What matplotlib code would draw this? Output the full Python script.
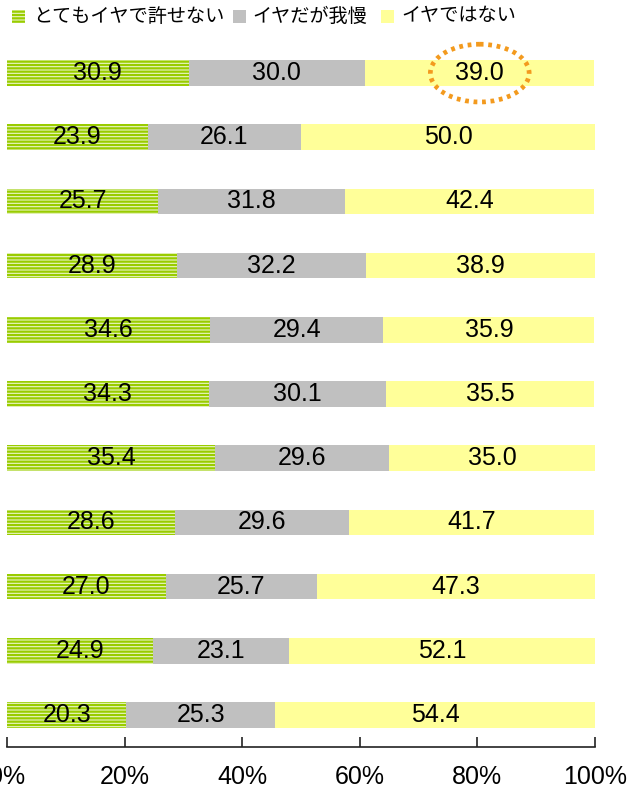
import matplotlib.pyplot as plt
from matplotlib.patches import Ellipse, Rectangle

# Data (percent)
legend_labels = ["とてもイヤで許せない", "イヤだが我慢", "イヤではない"]
very_bad = [30.9, 23.9, 25.7, 28.9, 34.6, 34.3, 35.4, 28.6, 27.0, 24.9, 20.3]
tolerate = [30.0, 26.1, 31.8, 32.2, 29.4, 30.1, 29.6, 29.6, 25.7, 23.1, 25.3]
not_bad = [39.0, 50.0, 42.4, 38.9, 35.9, 35.5, 35.0, 41.7, 47.3, 52.1, 54.4]
xticks = [0, 20, 40, 60, 80, 100]
xtick_labels = ["0%", "20%", "40%", "60%", "80%", "100%"]

green_face = "#EAF5C6"
green_line = "#99CC00"
gray = "#C0C0C0"
yellow = "#FFFF99"

plt.rcParams["font.family"] = ["Liberation Sans", "Noto Sans CJK JP", "DejaVu Sans"]
plt.rcParams["hatch.linewidth"] = 1.6

fig = plt.figure(figsize=(6.29, 7.89), dpi=100)
ax = fig.add_axes([7 / 629, 1 - 747 / 789, 588 / 629, 706 / 789])

rows = list(range(len(very_bad)))
h = 0.4
left2 = [a for a in very_bad]
left3 = [a + b for a, b in zip(very_bad, tolerate)]

ax.barh(rows, very_bad, height=h, color=green_face, edgecolor=green_line,
        hatch="-----", linewidth=0)
ax.barh(rows, tolerate, left=left2, height=h, color=gray, linewidth=0)
ax.barh(rows, not_bad, left=left3, height=h, color=yellow, linewidth=0)

# Value labels centred in each segment
for i in rows:
    ax.text(very_bad[i] / 2, i, f"{very_bad[i]:.1f}", ha="center", va="center", fontsize=18)
    ax.text(left2[i] + tolerate[i] / 2, i, f"{tolerate[i]:.1f}", ha="center", va="center", fontsize=18)
    ax.text(left3[i] + not_bad[i] / 2, i, f"{not_bad[i]:.1f}", ha="center", va="center", fontsize=18)

# Dotted highlight around the first "イヤではない" value
ring = Ellipse((left3[0] + not_bad[0] / 2, 0), 16.8, 0.9, fill=False,
               edgecolor="#F39A1E", linewidth=3.4, linestyle=(0, (0.8, 1.0)),
               clip_on=False)
ring.set_capstyle("butt")
ax.add_patch(ring)

ax.set_xlim(0, 100)
ax.set_ylim(10.5, -0.5)
ax.set_yticks([])
ax.set_xticks(xticks)
ax.set_xticklabels(xtick_labels, fontsize=18)
ax.tick_params(axis="x", direction="in", length=7, width=1.2, pad=13, color="#222222")
for s in ["left", "right", "top"]:
    ax.spines[s].set_visible(False)
ax.spines["bottom"].set_linewidth(1.2)
ax.spines["bottom"].set_color("#222222")

# Legend drawn along the top edge
items = [
    (12, 33, dict(facecolor=green_face, edgecolor=green_line, hatch="-----", linewidth=0)),
    (233, 252, dict(facecolor=gray, linewidth=0)),
    (381, 401, dict(facecolor=yellow, linewidth=0)),
]
for (sx, tx, style), label in zip(items, legend_labels):
    fig.add_artist(Rectangle((sx / 629, 1 - 23 / 789), 13 / 629, 13 / 789,
                             transform=fig.transFigure, **style))
    fig.text(tx / 629, 1 - 16 / 789, label, fontsize=13.8, va="center", ha="left",
             family=["Noto Sans CJK JP", "DejaVu Sans"])

fig.savefig("out.png", dpi=100)
